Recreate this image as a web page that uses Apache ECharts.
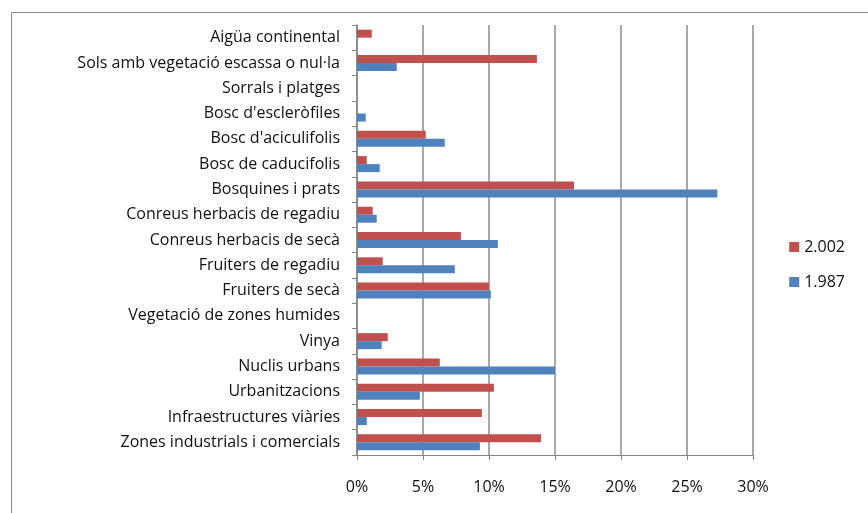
<!DOCTYPE html>
<html>
<head>
<meta charset="utf-8">
<script src="https://cdn.jsdelivr.net/npm/echarts@6/dist/echarts.min.js"></script>
<style>
html, body { margin: 0; padding: 0; background: #fff; }
#chart { width: 868px; height: 513px; }
</style>
</head>
<body>
<div id="chart"></div>
<script>
// categories, bottom to top (echarts draws the first category at the bottom)
var categories = [
    'Zones industrials i comercials',
    'Infraestructures viàries',
    'Urbanitzacions',
    'Nuclis urbans',
    'Vinya',
    'Vegetació de zones humides',
    'Fruiters de secà',
    'Fruiters de regadiu',
    'Conreus herbacis de secà',
    'Conreus herbacis de regadiu',
    'Bosquines i prats',
    'Bosc de caducifolis',
    "Bosc d'aciculifolis",
    "Bosc d'escleròfiles",
    'Sorrals i platges',
    'Sols amb vegetació escassa o nul·la',
    'Aigüa continental'
];
var values2002 = [13.94, 9.46, 10.37, 6.27, 2.33, 0, 9.99, 1.95, 7.87, 1.19, 16.44, 0.74, 5.21, 0, 0, 13.63, 1.12];
var values1987 = [9.31, 0.74, 4.76, 15.0, 1.87, 0, 10.14, 7.41, 10.67, 1.49, 27.3, 1.72, 6.65, 0.66, 0, 3.01, 0];
var seriesNames = ['2.002', '1.987'];
var xTicks = [0, 5, 10, 15, 20, 25, 30];

var myChart = echarts.init(document.getElementById('chart'));
var option = {
    animation: false,
    textStyle: { fontFamily: 'Open Sans' },
    graphic: [{
        type: 'rect',
        shape: { x: 11.5, y: 12.5, width: 900, height: 600 },
        style: { fill: 'none', stroke: '#8c8c8c', lineWidth: 1 }
    }],
    legend: {
        orient: 'vertical',
        right: 18,
        top: 234,
        itemWidth: 10,
        itemHeight: 10,
        itemGap: 19,
        icon: 'rect',
        textStyle: { fontSize: 16, color: '#111', fontFamily: 'Open Sans' },
        data: seriesNames
    },
    grid: {
        left: 357,
        right: 115,
        top: 25,
        bottom: 58
    },
    xAxis: {
        type: 'value',
        min: xTicks[0],
        max: xTicks[xTicks.length - 1],
        interval: 5,
        axisLine: { show: true, lineStyle: { color: '#868686' } },
        axisTick: { show: true, length: 5, lineStyle: { color: '#868686' } },
        splitLine: { show: true, lineStyle: { color: '#8c8c8c', width: 1.5 } },
        axisLabel: {
            formatter: '{value}%',
            fontSize: 16,
            color: '#111',
            margin: 24
        }
    },
    yAxis: {
        type: 'category',
        data: categories,
        axisLine: { show: true, lineStyle: { color: '#868686', width: 1.5 } },
        axisTick: { show: true, length: 5, lineStyle: { color: '#868686' } },
        axisLabel: { fontSize: 16, color: '#111', margin: 17, padding: [6, 0, 0, 0] }
    },
    series: [
        {
            name: seriesNames[0],
            type: 'bar',
            data: values2002,
            barWidth: 8,
            barGap: '0%',
            itemStyle: { color: '#c0504d' }
        },
        {
            name: seriesNames[1],
            type: 'bar',
            data: values1987,
            barWidth: 8,
            barGap: '0%',
            itemStyle: { color: '#4f81bd' }
        }
    ]
};
myChart.setOption(option);
</script>
</body>
</html>
